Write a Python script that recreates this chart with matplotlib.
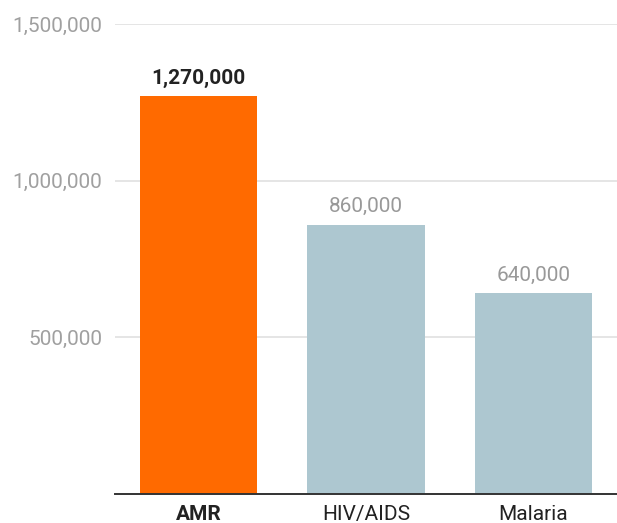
import matplotlib.pyplot as plt
from matplotlib.ticker import FuncFormatter

plt.rcParams['font.family'] = ['Roboto', 'DejaVu Sans']

categories = ['AMR', 'HIV/AIDS', 'Malaria']
deaths = [1270000, 860000, 640000]
colors = ['#ff6a00', '#adc7d0']

fig = plt.figure(figsize=(6.17, 5.23), dpi=100)
ax = fig.add_axes([115 / 617, 29 / 523, 1 - 115 / 617, 470 / 523])

x = range(len(categories))
bar_colors = [colors[0]] + [colors[1]] * (len(categories) - 1)
bars = ax.bar(x, deaths, width=0.7, color=bar_colors, zorder=2)

ax.set_xlim(-0.5, 2.5)
ax.set_ylim(0, 1500000)
ax.set_yticks([500000, 1000000, 1500000])
ax.yaxis.set_major_formatter(FuncFormatter(lambda v, p: f'{int(v):,}'))
ax.grid(axis='y', color='#e3e3e3', linewidth=1.3, zorder=0)
ax.tick_params(axis='y', length=0, pad=9, labelsize=15, labelcolor='#a0a0a0')
ax.tick_params(axis='x', length=0, pad=8, labelsize=15, labelcolor='#222222')
ax.set_xticks(list(x))
ax.set_xticklabels(categories)
ax.get_xticklabels()[0].set_fontweight('bold')

for s in ['top', 'right', 'left']:
    ax.spines[s].set_visible(False)
ax.spines['bottom'].set_color('#333333')
ax.spines['bottom'].set_linewidth(1.4)
ax.spines['bottom'].set_zorder(3)

# labels above bars
for i, (b, v) in enumerate(zip(bars, deaths)):
    ax.annotate(f'{v:,}', (b.get_x() + b.get_width() / 2, v),
                xytext=(0, 6), textcoords='offset points',
                ha='center', va='bottom', fontsize=15,
                color='#222222' if i == 0 else '#999999',
                fontweight='bold' if i == 0 else 'normal')

fig.savefig('out.png', dpi=100)
